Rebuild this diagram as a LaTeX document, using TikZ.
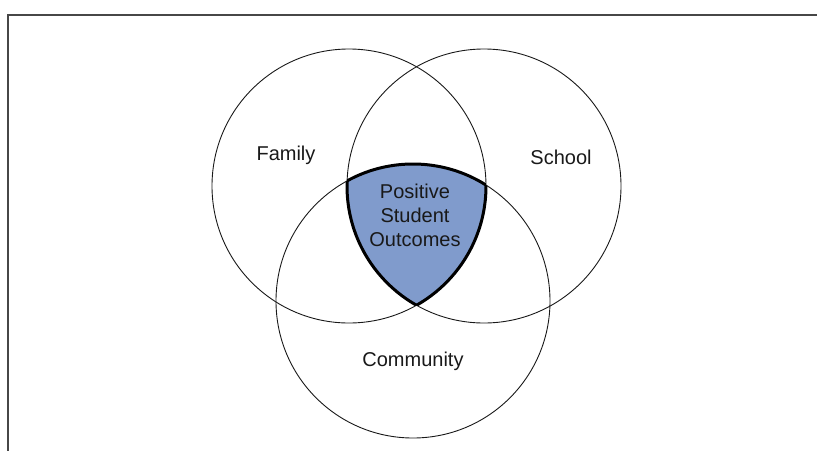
\documentclass[tikz,border=0pt]{standalone}
\usepackage{fontspec}
\setmainfont{Liberation Sans}
\definecolor{core}{RGB}{128,155,204}
\definecolor{ink}{RGB}{25,25,25}
\begin{document}
\begin{tikzpicture}[x=1pt,y=-1pt,
  ring/.style={draw=ink,line width=0.9pt},
  bold/.style={draw=black,line width=3pt},
  lbl/.style={font=\fontsize{20}{24}\selectfont,text=ink,align=center,inner sep=0pt}]
\useasboundingbox (0,0) rectangle (817,451);
\coordinate (frameTL) at (8,15);
\coordinate (frameTR) at (817,15);
\coordinate (frameBL) at (8,451);
\draw[draw=ink!80,line width=1.5pt] (frameTR) -- (frameTL) -- (frameBL);
\coordinate (fam) at (349,186);
\coordinate (sch) at (484,186);
\coordinate (com) at (413,301);
\def\R{137}
% shaded core
\begin{scope}
  \clip (fam) circle (\R);
  \clip (sch) circle (\R);
  \fill[core] (com) circle (\R);
\end{scope}
\draw[ring] (fam) circle (\R);
\draw[ring] (sch) circle (\R);
\draw[ring] (com) circle (\R);
\begin{scope}
  \clip (fam) circle (\R);
  \clip (sch) circle (\R);
  \draw[bold] (com) circle (\R);
\end{scope}
\begin{scope}
  \clip (fam) circle (\R);
  \clip (com) circle (\R);
  \draw[bold] (sch) circle (\R);
\end{scope}
\begin{scope}
  \clip (sch) circle (\R);
  \clip (com) circle (\R);
  \draw[bold] (fam) circle (\R);
\end{scope}
\node[lbl] (tfam) at (286,155) {Family};
\node[lbl] (tsch) at (561,157) {School};
\node[lbl] (tcom) at (413,361) {Community};
\node[lbl] (tcore) at (415,215) {Positive\\Student\\Outcomes};
\end{tikzpicture}
\end{document}
